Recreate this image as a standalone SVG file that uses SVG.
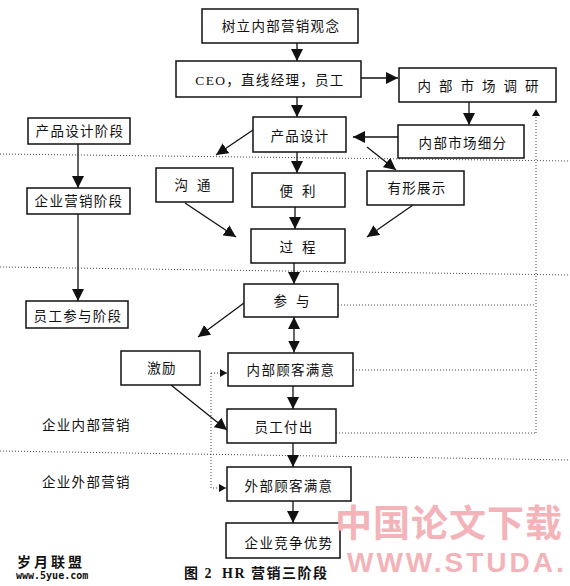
<svg xmlns="http://www.w3.org/2000/svg" width="570" height="586" viewBox="0 0 570 586">
<defs>
<marker id="ah" markerUnits="userSpaceOnUse" markerWidth="13" markerHeight="12" refX="12" refY="6" orient="auto-start-reverse" viewBox="0 0 13 12">
<path d="M0,0 L12,6 L0,12 z" fill="#111"/>
</marker>
<marker id="sh" markerUnits="userSpaceOnUse" markerWidth="8" markerHeight="8" refX="7" refY="4" orient="auto" viewBox="0 0 8 8">
<path d="M0,0 L7,4 L0,8 z" fill="#111"/>
</marker>
<style>
.box{fill:#fff;stroke:#111;stroke-width:1.5}
.t{font-family:"Liberation Serif","Noto Sans CJK SC",serif;font-size:13.5px;fill:#111;text-anchor:middle;dominant-baseline:central;letter-spacing:1.3px}
.lbl{font-family:"Liberation Serif","Noto Sans CJK SC",serif;font-size:13.5px;fill:#111;dominant-baseline:central;letter-spacing:1.3px}
.ln{stroke:#111;stroke-width:1.3;fill:none}
.dot{stroke:#444;stroke-width:1;stroke-dasharray:1 2;fill:none}
.cap{font-family:"Liberation Serif","Noto Sans CJK SC",serif;font-size:14px;font-weight:bold;fill:#111;letter-spacing:1.5px}
</style>
</defs>

<g id="dividers">
<path class="dot" d="M0,154 L570,161"/>
<path class="dot" d="M0,267 L570,275"/>
<path class="dot" d="M0,451 L570,460"/>
</g>

<g id="connectors">
<path class="ln" d="M297,43 V61" marker-end="url(#ah)"/>
<path class="ln" d="M361,78 H398" marker-end="url(#ah)"/>
<path class="ln" d="M297,97 V117" marker-end="url(#ah)"/>
<path class="ln" d="M469,102 V125" marker-end="url(#ah)"/>
<path class="ln" d="M398,137 H353" marker-end="url(#ah)"/>
<path class="ln" d="M78,144 V188" marker-end="url(#ah)"/>
<path class="ln" d="M253,130 L216,155" marker-end="url(#ah)"/>
<path class="ln" d="M297,152 V173" marker-end="url(#ah)"/>
<path class="ln" d="M367,147 L396,170" marker-end="url(#ah)"/>
<path class="ln" d="M185,203 L236,237" marker-end="url(#ah)"/>
<path class="ln" d="M295,207 V229" marker-end="url(#ah)"/>
<path class="ln" d="M413,205 L367,237" marker-end="url(#ah)"/>
<path class="ln" d="M78,214 V301" marker-end="url(#ah)"/>
<path class="ln" d="M294,263 V284" marker-end="url(#ah)"/>
<path class="ln" d="M244,303 L198,337" marker-end="url(#ah)"/>
<path class="ln" d="M294,317 V352.5" marker-start="url(#ah)" marker-end="url(#ah)"/>
<path class="ln" d="M293,386 V409" marker-end="url(#ah)"/>
<path class="ln" d="M171,385 L227,430" marker-end="url(#ah)"/>
<path class="ln" d="M293,443 V467" marker-end="url(#ah)"/>
<path class="ln" d="M293,501 V523" marker-end="url(#ah)"/>
<path class="dot" d="M536,433 V109" marker-end="url(#sh)"/>
<path class="dot" d="M338,305 H536"/>
<path class="dot" d="M353,370 H536"/>
<path class="dot" d="M336,433 H536"/>
<path class="dot" d="M211,373 H227" marker-end="url(#sh)"/>
<path class="dot" d="M211,373 V488 H226" marker-end="url(#sh)"/>
</g>

<g id="n1"><rect class="box" x="202" y="9" width="156" height="34"/><text class="t" x="281" y="26">树立内部营销观念</text></g>
<g id="n2"><rect class="box" x="176" y="61" width="185" height="36"/><text class="t" x="270" y="80">CEO，直线经理，员工</text></g>
<g id="n3"><rect class="box" x="399" y="68" width="157" height="34"/><text class="t" x="482" y="86" style="letter-spacing:8px">内部市场调研</text></g>
<g id="n4"><rect class="box" x="398" y="125" width="126" height="33"/><text class="t" x="463" y="143">内部市场细分</text></g>
<g id="n5"><rect class="box" x="253" y="117" width="93" height="35"/><text class="t" x="300" y="136">产品设计</text></g>
<g id="n6"><rect class="box" x="28" y="118" width="102" height="26"/><text class="t" x="80" y="131">产品设计阶段</text></g>
<g id="n7"><rect class="box" x="156" y="168" width="77" height="34"/><text class="t" x="197" y="185" style="letter-spacing:9px">沟通</text></g>
<g id="n8"><rect class="box" x="252" y="173" width="93" height="34"/><text class="t" x="302" y="191" style="letter-spacing:9px">便利</text></g>
<g id="n9"><rect class="box" x="367" y="171" width="97" height="34"/><text class="t" x="417" y="188">有形展示</text></g>
<g id="n10"><rect class="box" x="27" y="188" width="103" height="26"/><text class="t" x="79" y="201">企业营销阶段</text></g>
<g id="n11"><rect class="box" x="251" y="229" width="94" height="34"/><text class="t" x="302" y="247" style="letter-spacing:9px">过程</text></g>
<g id="n12"><rect class="box" x="244" y="284" width="94" height="33"/><text class="t" x="296" y="301" style="letter-spacing:9px">参与</text></g>
<g id="n13"><rect class="box" x="26" y="301" width="102" height="27"/><text class="t" x="78" y="316">员工参与阶段</text></g>
<g id="n14"><rect class="box" x="121" y="351" width="79" height="34"/><text class="t" x="162" y="368">激励</text></g>
<g id="n15"><rect class="box" x="228" y="353" width="125" height="33"/><text class="t" x="291" y="370">内部顾客满意</text></g>
<g id="n16"><rect class="box" x="227" y="409" width="109" height="34"/><text class="t" x="284" y="427">员工付出</text></g>
<g id="n17"><rect class="box" x="227" y="467" width="124" height="34"/><text class="t" x="289" y="486">外部顾客满意</text></g>
<g id="n18"><rect class="box" x="226" y="523" width="114" height="35"/><text class="t" x="289" y="543">企业竞争优势</text></g>

<g id="labels">
<text class="lbl" x="42" y="425">企业内部营销</text>
<text class="lbl" x="42" y="482">企业外部营销</text>
<text class="cap" y="578"><tspan x="184">图 2</tspan><tspan x="222">HR 营销三阶段</tspan></text>
</g>

<g id="watermarks">
<text x="449" y="537" text-anchor="middle" style="font-family:'Noto Sans CJK SC',sans-serif;font-size:37px;font-weight:bold;fill:#f3b3b8;letter-spacing:1px">中国论文下载</text>
<text x="347" y="572" style="font-family:'Liberation Sans',sans-serif;font-size:28px;font-weight:bold;fill:#f3b3b8;letter-spacing:3px">WWW.STUDA.</text>
<text x="17" y="567" style="font-family:'Noto Sans CJK SC',sans-serif;font-size:14px;font-weight:bold;fill:#111;letter-spacing:3px">岁月联盟</text>
<text x="16" y="579" style="font-family:'DejaVu Sans Mono',monospace;font-size:10px;font-weight:bold;fill:#111">www.5yue.com</text>
</g>
</svg>
